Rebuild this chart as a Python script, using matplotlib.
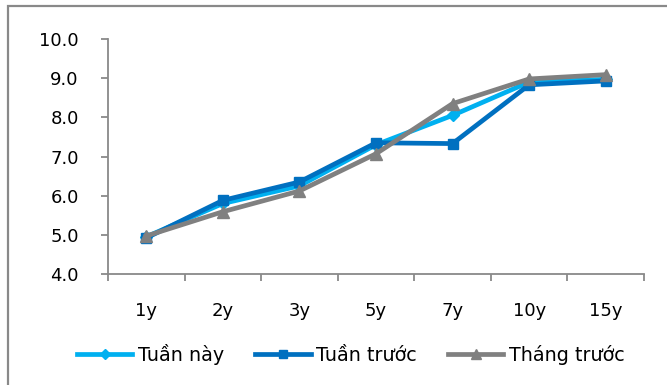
import matplotlib
matplotlib.use("Agg")
import matplotlib.pyplot as plt
from matplotlib.patches import Rectangle
from matplotlib.ticker import FixedLocator, FormatStrFormatter

# data
tenors = ["1y", "2y", "3y", "5y", "7y", "10y", "15y"]
tuan_nay = [4.95, 5.80, 6.25, 7.30, 8.05, 8.90, 8.97]
tuan_truoc = [4.92, 5.88, 6.35, 7.35, 7.33, 8.83, 8.93]
thang_truoc = [4.97, 5.59, 6.12, 7.07, 8.35, 8.98, 9.09]
y_ticks = [4.0, 5.0, 6.0, 7.0, 8.0, 9.0, 10.0]

plt.rcParams['font.family'] = ['DejaVu Sans']
axis_grey = '#898989'

fig = plt.figure(figsize=(6.67, 3.85), dpi=100)
ax = fig.add_axes([108 / 667, 1 - 274 / 385, (644 - 108) / 667, (274 - 39) / 385])

# outer chart frame (cut off at right and bottom in the reference)
fig.patches.append(Rectangle((8 / 667, -0.1), 1.2, 1.1 - 6 / 385, transform=fig.transFigure,
                             fill=False, edgecolor=axis_grey, linewidth=1.6))

x = list(range(len(tenors)))
ax.plot(x, tuan_nay, color='#00B0F0', lw=3.4, marker='D', ms=6, label='Tuần này', zorder=3)
ax.plot(x, tuan_truoc, color='#0070C0', lw=3.4, marker='s', ms=7.5, label='Tuần trước', zorder=4)
ax.plot(x, thang_truoc, color='#808080', lw=3.4, marker='^', ms=8, label='Tháng trước', zorder=5)

ax.set_xlim(-0.5, len(tenors) - 0.5)
ax.set_ylim(4, 10)

ax.set_xticks(x)
ax.set_xticklabels(tenors, fontsize=13)
ax.tick_params(axis='x', which='major', length=0, pad=20)
ax.xaxis.set_minor_locator(FixedLocator([i - 0.5 for i in range(len(tenors) + 1)]))
ax.tick_params(axis='x', which='minor', length=5, width=1.3, color=axis_grey, direction='out')

ax.set_yticks(y_ticks)
ax.yaxis.set_major_formatter(FormatStrFormatter('%.1f'))
ax.tick_params(axis='y', length=5, width=1.3, color=axis_grey, pad=16, labelsize=13)

for side in ['top', 'right']:
    ax.spines[side].set_visible(False)
for side in ['left', 'bottom']:
    ax.spines[side].set_color(axis_grey)
    ax.spines[side].set_linewidth(1.3)

fig.legend(loc='center', bbox_to_anchor=(0.526, 0.08), ncol=3, frameon=False, fontsize=13.8,
           handlelength=2.9, handletextpad=0.3, columnspacing=1.6, borderaxespad=0,
           markerscale=0.85)

fig.savefig('out.png', dpi=100)
